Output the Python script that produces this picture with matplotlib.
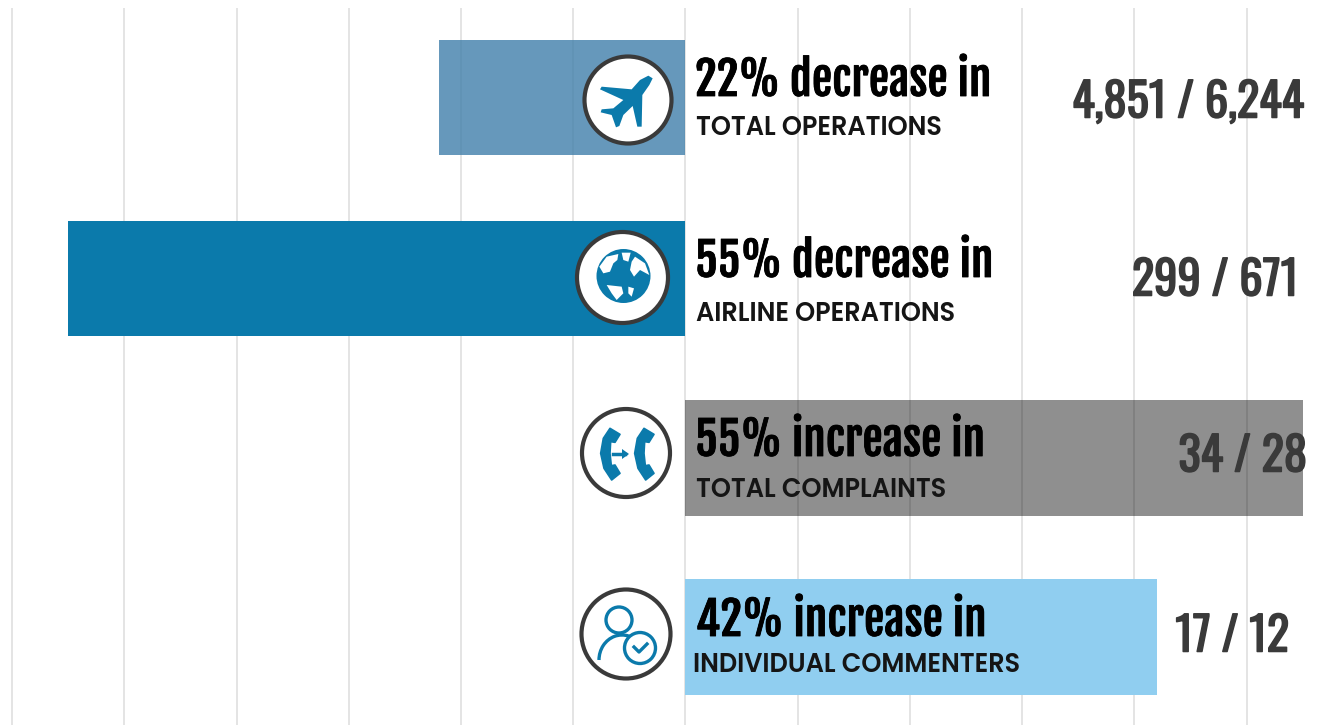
import matplotlib
matplotlib.use("Agg")
import matplotlib.pyplot as plt
import matplotlib.patheffects as pe
from matplotlib.patches import Circle, Polygon, Arc

# percent change, bars go left for a decrease
changes = [-22, -55, 55, 42]
headlines = ["22% decrease in", "55% decrease in", "55% increase in", "42% increase in"]
sublabels = ["TOTAL OPERATIONS", "AIRLINE OPERATIONS", "TOTAL COMPLAINTS", "INDIVIDUAL COMMENTERS"]
counts = ["4,851 / 6,244", "299 / 671", "34 / 28", "17 / 12"]
grid_ticks = [-60, -50, -40, -30, -20, -10, 0, 10, 20, 30, 40, 50]

bar_colors = ["#407FAA", "#0B7AAB", "#000000", "#90CEF0"]
bar_alpha = [0.8, 1.0, 0.44, 1.0]
BLUE = "#0B7AAB"
RING = "#3a3a3a"
HEAD_FONT = ["Fjalla One", "Oswald", "Barlow Condensed", "DejaVu Sans"]
COUNT_FONT = ["Oswald", "Fjalla One", "Barlow Condensed", "DejaVu Sans"]
LABEL_FONT = ["Poppins", "Lato", "DejaVu Sans"]

fig = plt.figure(figsize=(13.19, 7.25), dpi=100)
fig.patch.set_facecolor("white")

# main axes fill the figure, 1 x unit = 11.22 px, 1 row = 179.8 px
ax = fig.add_axes([0, 0, 1, 1])
ax.set_xlim(-685.5 / 11.22, (1319 - 685.5) / 11.22)
ax.set_ylim((725 - 97.5) / 179.8, -97.5 / 179.8)
ax.set_yticks([])
ax.set_xticks(grid_ticks)
ax.tick_params(length=0, labelbottom=False)
for s in ax.spines.values():
    s.set_visible(False)
ax.vlines(grid_ticks, -0.498, 3.49, color="#e2e2e2", lw=1.3, zorder=1)
ypos = [0, 1.007, 2.005, 3.0]
for i in range(len(changes)):
    ax.barh(ypos[i], changes[i], height=0.643, color=bar_colors[i], alpha=bar_alpha[i], zorder=2)

# overlay in pixel coordinates for icons and text
ov = fig.add_axes([0, 0, 1, 1])
ov.set_xlim(0, 1319)
ov.set_ylim(725, 0)
ov.axis("off")
ov.patch.set_alpha(0)

head_xy = [(695, 81), (695, 262), (695, 441), (696, 621)]
sub_xy = [(696, 128), (696, 314), (696, 490), (693, 666)]
count_xy = [(1304, 103), (1298, 281), (1307, 457), (1289, 637)]
for i in range(4):
    ov.text(head_xy[i][0], head_xy[i][1], headlines[i], family=HEAD_FONT,
            fontsize=32.8, color="black", va="center", ha="left",
            path_effects=[pe.withStroke(linewidth=0.6, foreground="black")])
    ov.text(sub_xy[i][0], sub_xy[i][1], sublabels[i], family=LABEL_FONT, weight="semibold",
            fontsize=18.4, color="#151515", va="center", ha="left")
    ov.text(count_xy[i][0], count_xy[i][1], counts[i], family=COUNT_FONT,
            fontsize=33.5, color="#3a3a3a", va="center", ha="right",
            path_effects=[pe.withStroke(linewidth=1.1, foreground="#3a3a3a")])


def ring(cx, cy, r):
    ov.add_patch(Circle((cx, cy), r, fc="white", ec=RING, lw=3.0, zorder=5))


# outlines were traced on 3x crops, this puts them back in figure px
def crop_pts(pts, x0, y0):
    return [(x0 + x / 3, y0 + y / 3) for x, y in pts]


# plane
ring(628, 100, 43.5)
plane = [(278, 145), (265, 137), (240, 150), (215, 178), (125, 170), (120, 178), (190, 210),
         (160, 235), (125, 238), (122, 247), (155, 255), (168, 292), (178, 288), (190, 255),
         (218, 228), (232, 290), (245, 290), (247, 195), (268, 165)]
ov.add_patch(Polygon(crop_pts(plane, 560, 30), fc=BLUE, ec="none", zorder=6))

# globe
ring(622.5, 277.5, 45.5)
ov.add_patch(Circle((623.5, 276), 27, fc=BLUE, ec="none", zorder=6))
land = [
    [(118, 710), (140, 680), (175, 672), (172, 690), (160, 700), (150, 725), (130, 730)],
    [(185, 668), (212, 668), (205, 695), (190, 690)],
    [(225, 680), (255, 700), (268, 735), (240, 720), (222, 740), (210, 720), (215, 695)],
    [(140, 765), (185, 770), (190, 790), (170, 810), (155, 790)],
    [(205, 770), (222, 775), (215, 800), (205, 790)],
]
for pts in land:
    ov.add_patch(Polygon(crop_pts(pts, 560, 30), fc="white", ec="none", zorder=7))

# phones, both handsets are the same shape
ring(626, 453, 44)
phone = [(150, 100), (180, 118), (165, 142), (152, 140), (150, 175), (154, 212), (165, 210),
         (180, 235), (155, 255), (132, 220), (122, 175), (130, 130)]
for shift in [0, 102]:
    pts = [(x + shift, y) for x, y in phone]
    ov.add_patch(Polygon(crop_pts(pts, 560, 395), fc=BLUE, ec=BLUE, lw=1.2, joinstyle="round", zorder=6))
ov.plot([613, 625], [454, 454], color=BLUE, lw=2.5, zorder=6)
ov.add_patch(Polygon([(622, 449), (629, 454), (622, 459)], fc=BLUE, ec="none", zorder=6))

# person with check badge
ring(626, 634, 44.5)
ov.add_patch(Circle((619, 620), 13, fc="none", ec=BLUE, lw=2.4, zorder=6))
ov.add_patch(Arc((622, 660), 46, 50, theta1=180, theta2=320, ec=BLUE, lw=2.4, zorder=6))
ov.add_patch(Circle((640, 648), 15.5, fc="white", ec=BLUE, lw=2.4, zorder=6))
ov.plot([634, 639, 647], [647, 652, 644], color=BLUE, lw=2.4, zorder=7)

fig.savefig("out.png", dpi=100)
